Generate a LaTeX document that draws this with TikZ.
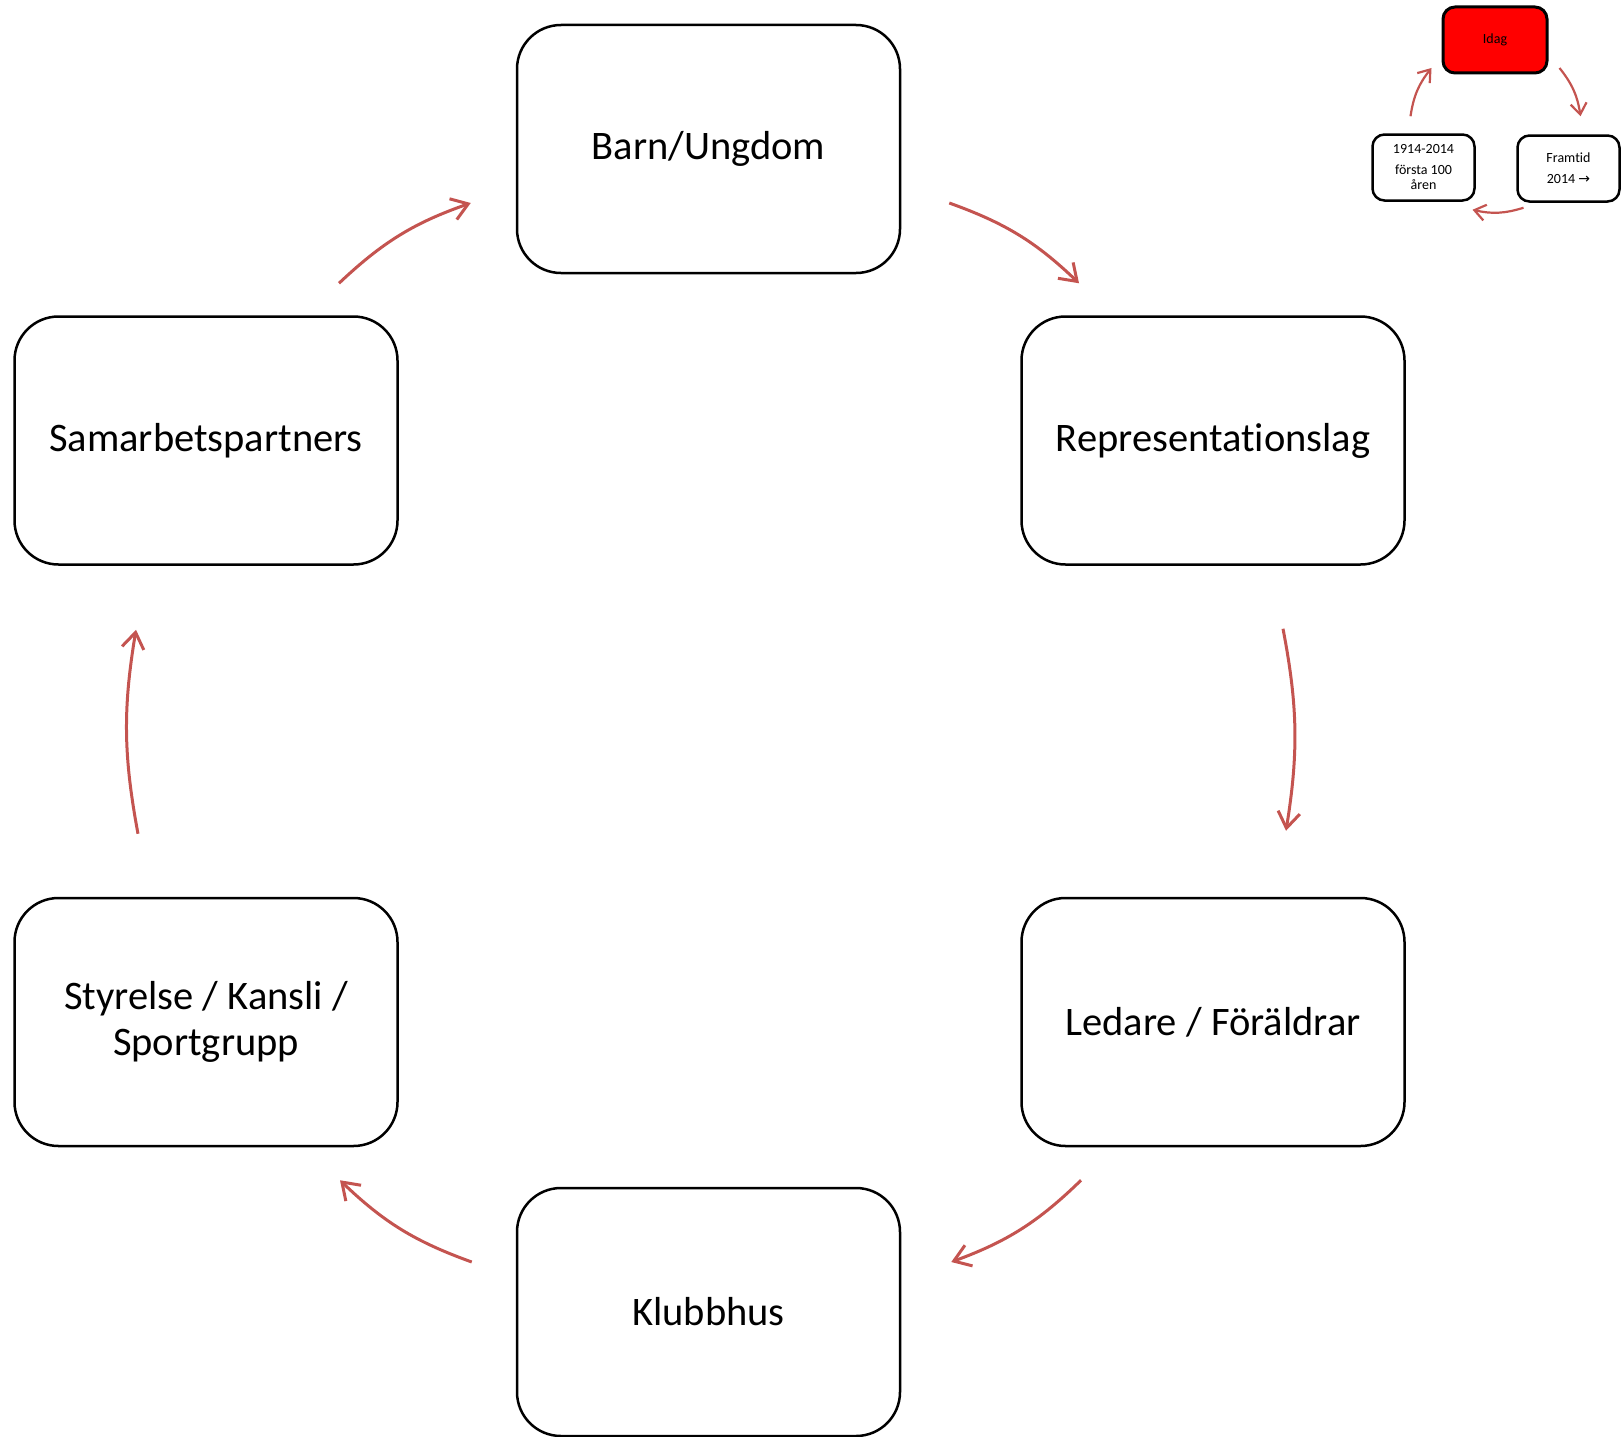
\documentclass[tikz,border=0pt]{standalone}
\usepackage{fontspec}
\setmainfont{Carlito}[Ligatures=NoCommon]
\newfontfamily\symfont{DejaVu Sans}
\usetikzlibrary{arrows.meta}
\definecolor{flowred}{RGB}{196,84,80}
\tikzset{
	bigbox/.style={draw, line width=2.5pt, rounded corners=44pt, minimum width=383pt, minimum height=248pt, align=center, font=\fontsize{40.5}{46}\selectfont},
	smallbox/.style={draw, line width=2.5pt, rounded corners=12pt, minimum width=102pt, minimum height=66pt, align=center, font=\fontsize{14}{15}\selectfont},
	flow/.style={draw=flowred, line width=3pt, -{Straight Barb[length=16pt, width=22pt, line width=3pt]}},
	smallflow/.style={draw=flowred, line width=2.2pt, -{Straight Barb[length=11pt, width=16pt, line width=2.2pt]}}
}
\begin{document}
\begin{tikzpicture}[x=1pt, y=-1pt]
	\useasboundingbox (0, 0) rectangle (1622, 1437);

	% the six parts of the club
	\node [bigbox]	(barn)		at (708.5, 149)		{Barn/Ungdom};
	\node [bigbox]	(rep)		at (1213, 440.5)	{Representationslag};
	\node [bigbox]	(ledare)	at (1213, 1022)		{Ledare / Föräldrar};
	\node [bigbox]	(klubb)		at (708.5, 1312)	{Klubbhus};
	\node [bigbox]	(styr)		at (206, 1022)		{Styrelse / Kansli /\\Sportgrupp};
	\node [bigbox]	(samarb)	at (206, 440.5)		{Samarbetspartners};

	\draw [flow]	([xshift=133pt, yshift=32pt]samarb.north) to[bend left=12] ([xshift=-45pt, yshift=-54pt]barn.west);
	\draw [flow]	([xshift=48pt, yshift=-54pt]barn.east) to[bend left=12] ([xshift=-134pt, yshift=32pt]rep.north);
	\draw [flow]	([xshift=70pt, yshift=-63pt]rep.south) to[bend left=10] ([xshift=73pt, yshift=66pt]ledare.north);
	\draw [flow]	([xshift=-132pt, yshift=-33pt]ledare.south) to[bend left=12] ([xshift=50pt, yshift=50pt]klubb.east);
	\draw [flow]	([xshift=-44pt, yshift=50pt]klubb.west) to[bend left=12] ([xshift=134pt, yshift=-33pt]styr.south);
	\draw [flow]	([xshift=-68pt, yshift=63pt]styr.north) to[bend left=10] ([xshift=-70pt, yshift=-64pt]samarb.south);

	% the small time cycle
	\node [smallbox, fill=red, line width=3pt, minimum width=104pt]	(idag)	at (1495, 40)	{Idag};
	\node [smallbox]	(hist)	at (1423.5, 167.5)	{1914-2014\\[6pt]första 100\\åren};
	\node [smallbox]	(fram)	at (1568.5, 168.5)	{Framtid\\[6pt]2014 {\symfont\fontsize{14}{15}\selectfont →}};

	\draw [smallflow]	([xshift=-13pt, yshift=17pt]hist.north) to[bend left=15] ([xshift=-10pt, yshift=-28pt]idag.west);
	\draw [smallflow]	([xshift=11pt, yshift=-28pt]idag.east) to[bend left=15] ([xshift=12pt, yshift=18pt]fram.north);
	\draw [smallflow]	([xshift=-45pt, yshift=-5pt]fram.south) to[bend left=15] ([xshift=49pt, yshift=-8pt]hist.south);
\end{tikzpicture}
\end{document}
